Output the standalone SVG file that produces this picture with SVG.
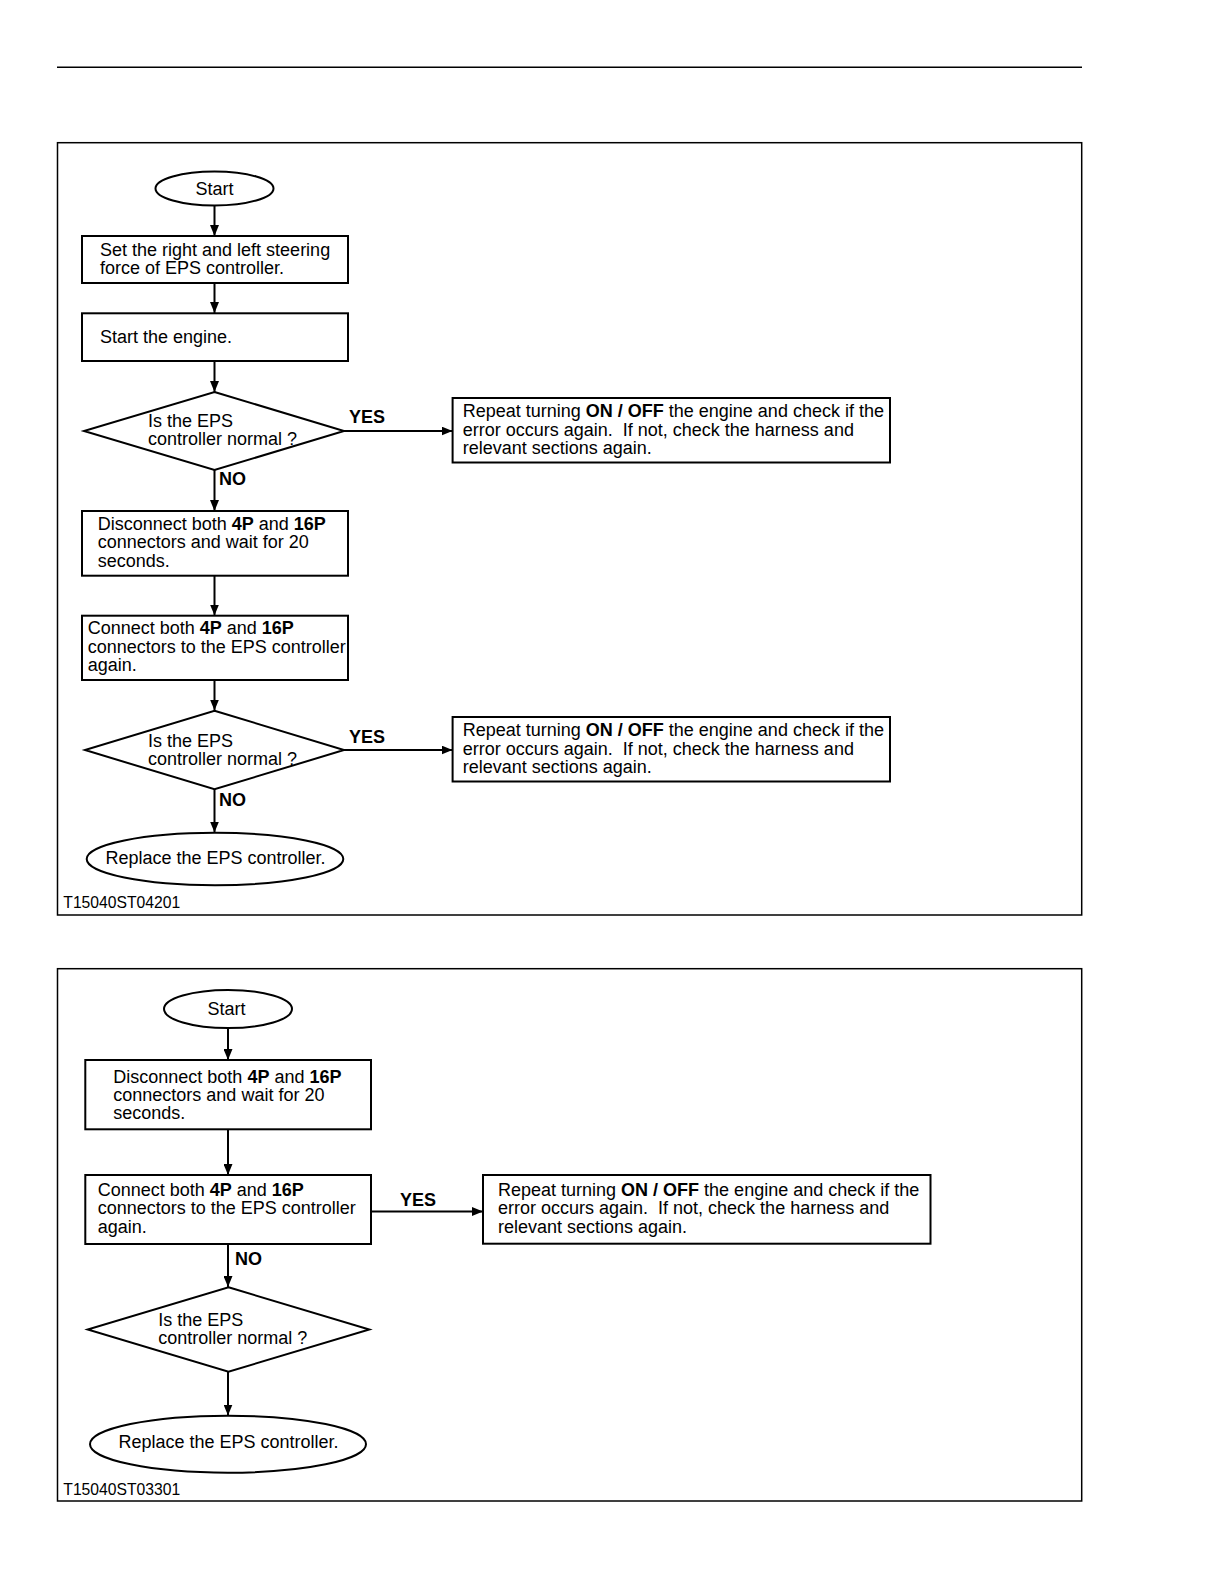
<svg xmlns="http://www.w3.org/2000/svg" width="1224" height="1584" viewBox="0 0 1224 1584">
<style>
text{font-family:"Liberation Sans",Arial,sans-serif;font-size:18px;fill:#000}
.b{font-weight:bold}
.lbl{font-size:15.7px}
.shape{fill:#fff;stroke:#000;stroke-width:2}
.frame{fill:none;stroke:#000;stroke-width:1.5}
.conn{stroke:#000;stroke-width:2;fill:none}
</style>
<defs>
<marker id="arr" markerUnits="userSpaceOnUse" markerWidth="11" markerHeight="9" refX="11" refY="4.5" orient="auto">
<path d="M0,0 L11,4.5 L0,9 z" fill="#000"/>
</marker>
</defs>
<rect width="1224" height="1584" fill="#fff"/>
<line x1="57" y1="67.3" x2="1082" y2="67.3" stroke="#000" stroke-width="1.5"/>
<rect class="frame" x="57.5" y="142.7" width="1024.2" height="772.3"/>
<rect class="frame" x="57.5" y="968.7" width="1024.2" height="532.3"/>

<g id="connectors">
<line class="conn" x1="214.5" y1="206" x2="214.5" y2="236" marker-end="url(#arr)"/>
<line class="conn" x1="214.5" y1="283" x2="214.5" y2="313" marker-end="url(#arr)"/>
<line class="conn" x1="214.5" y1="361" x2="214.5" y2="392" marker-end="url(#arr)"/>
<line class="conn" x1="344" y1="431" x2="452.5" y2="431" marker-end="url(#arr)"/>
<line class="conn" x1="214.5" y1="470" x2="214.5" y2="511" marker-end="url(#arr)"/>
<line class="conn" x1="214.5" y1="576" x2="214.5" y2="615.5" marker-end="url(#arr)"/>
<line class="conn" x1="214.5" y1="680" x2="214.5" y2="710.5" marker-end="url(#arr)"/>
<line class="conn" x1="344" y1="750" x2="452.5" y2="750" marker-end="url(#arr)"/>
<line class="conn" x1="214.5" y1="789" x2="214.5" y2="832.5" marker-end="url(#arr)"/>
<line class="conn" x1="228" y1="1028" x2="228" y2="1060" marker-end="url(#arr)"/>
<line class="conn" x1="228" y1="1129.5" x2="228" y2="1175" marker-end="url(#arr)"/>
<line class="conn" x1="371" y1="1211.5" x2="483" y2="1211.5" marker-end="url(#arr)"/>
<line class="conn" x1="228" y1="1244" x2="228" y2="1287" marker-end="url(#arr)"/>
<line class="conn" x1="228" y1="1372" x2="228" y2="1415.5" marker-end="url(#arr)"/>
<text class="b" x="349" y="423">YES</text>
<text class="b" x="219" y="485">NO</text>
<text class="b" x="349" y="743">YES</text>
<text class="b" x="219" y="806">NO</text>
<text class="b" x="400" y="1206">YES</text>
<text class="b" x="235" y="1265">NO</text>
</g>

<g id="start1">
<ellipse class="shape" cx="214.5" cy="188.5" rx="59" ry="17"/>
<text x="214.5" y="194.5" text-anchor="middle">Start</text>
</g>
<g id="set-force">
<rect class="shape" x="82" y="236" width="266" height="47"/>
<text x="100" y="255.5">Set the right and left steering</text>
<text x="100" y="273.5">force of EPS controller.</text>
</g>
<g id="start-engine">
<rect class="shape" x="82" y="313.3" width="266" height="47.7"/>
<text x="100" y="342.5">Start the engine.</text>
</g>
<g id="decision1">
<polygon class="shape" points="214.5,392 344,431 214.5,470 84,431"/>
<text x="148" y="427">Is the EPS</text>
<text x="148" y="445">controller normal ?</text>
</g>
<g id="repeat1">
<rect class="shape" x="452.6" y="398" width="437.4" height="64.5"/>
<text x="462.7" y="417">Repeat turning <tspan class="b">ON / OFF</tspan> the engine and check if the</text>
<text x="462.7" y="435.5">error occurs again.&#160; If not, check the harness and</text>
<text x="462.7" y="454">relevant sections again.</text>
</g>
<g id="disconnect1">
<rect class="shape" x="82" y="511" width="266" height="64.7"/>
<text x="97.7" y="529.5">Disconnect both <tspan class="b">4P</tspan> and <tspan class="b">16P</tspan></text>
<text x="97.7" y="548">connectors and wait for 20</text>
<text x="97.7" y="566.5">seconds.</text>
</g>
<g id="connect1">
<rect class="shape" x="82" y="615.7" width="266" height="64.3"/>
<text x="87.7" y="634">Connect both <tspan class="b">4P</tspan> and <tspan class="b">16P</tspan></text>
<text x="87.7" y="652.5">connectors to the EPS controller</text>
<text x="87.7" y="671">again.</text>
</g>
<g id="decision2">
<polygon class="shape" points="214.5,710.7 344,750 214.5,789.3 85,750"/>
<text x="148" y="746.7">Is the EPS</text>
<text x="148" y="764.7">controller normal ?</text>
</g>
<g id="repeat2">
<rect class="shape" x="452.6" y="717" width="437.4" height="64.5"/>
<text x="462.7" y="736">Repeat turning <tspan class="b">ON / OFF</tspan> the engine and check if the</text>
<text x="462.7" y="754.5">error occurs again.&#160; If not, check the harness and</text>
<text x="462.7" y="773">relevant sections again.</text>
</g>
<g id="replace1">
<ellipse class="shape" cx="215" cy="859" rx="128.3" ry="26.2"/>
<text x="215.5" y="864" text-anchor="middle">Replace the EPS controller.</text>
</g>
<text class="lbl" x="63.3" y="908.3">T15040ST04201</text>

<g id="start2">
<ellipse class="shape" cx="228" cy="1009" rx="64" ry="19"/>
<text x="226.5" y="1015" text-anchor="middle">Start</text>
</g>
<g id="disconnect2">
<rect class="shape" x="85.3" y="1060" width="285.7" height="69.3"/>
<text x="113.3" y="1082.7">Disconnect both <tspan class="b">4P</tspan> and <tspan class="b">16P</tspan></text>
<text x="113.3" y="1101">connectors and wait for 20</text>
<text x="113.3" y="1119.3">seconds.</text>
</g>
<g id="connect2">
<rect class="shape" x="85.3" y="1175" width="285.7" height="69"/>
<text x="97.7" y="1196">Connect both <tspan class="b">4P</tspan> and <tspan class="b">16P</tspan></text>
<text x="97.7" y="1214.3">connectors to the EPS controller</text>
<text x="97.7" y="1232.6">again.</text>
</g>
<g id="repeat3">
<rect class="shape" x="483" y="1175" width="447.5" height="68.7"/>
<text x="498" y="1196">Repeat turning <tspan class="b">ON / OFF</tspan> the engine and check if the</text>
<text x="498" y="1214.3">error occurs again.&#160; If not, check the harness and</text>
<text x="498" y="1232.6">relevant sections again.</text>
</g>
<g id="decision3">
<polygon class="shape" points="228.5,1287.3 369.3,1329.5 228.5,1371.7 87.7,1329.5"/>
<text x="158.3" y="1326">Is the EPS</text>
<text x="158.3" y="1344.3">controller normal ?</text>
</g>
<g id="replace2">
<ellipse class="shape" cx="228" cy="1444.2" rx="138" ry="28.5"/>
<text x="228.5" y="1448" text-anchor="middle">Replace the EPS controller.</text>
</g>
<text class="lbl" x="63.3" y="1495">T15040ST03301</text>
</svg>
